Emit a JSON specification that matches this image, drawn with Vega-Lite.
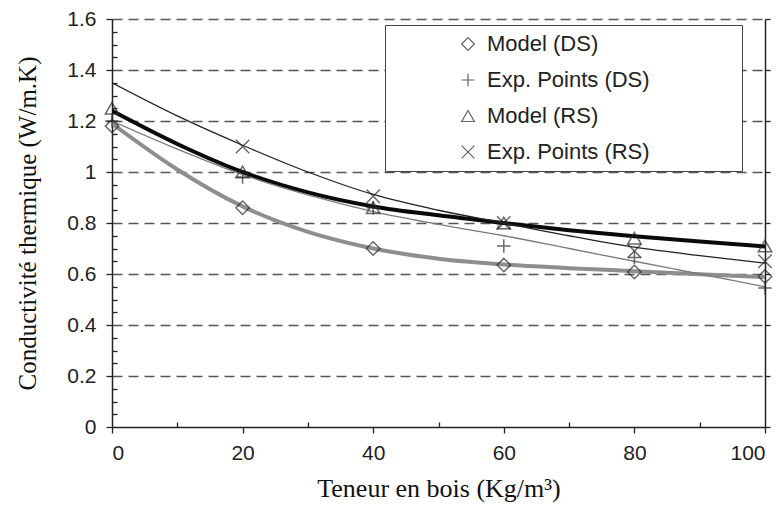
{
  "$schema": "https://vega.github.io/schema/vega-lite/v6.json",
  "autosize": "none",
  "width": 653,
  "height": 408,
  "padding": {"left": 112, "top": 19, "right": 17, "bottom": 81},
  "background": "white",
  "config": {
    "view": {"stroke": null},
    "axis": {"labelFont": "Liberation Sans", "labelColor": "#222", "titleFont": "Liberation Serif", "titleColor": "#111", "titleFontWeight": "normal", "domainColor": "#222", "domainWidth": 1.5, "tickColor": "#222", "tickWidth": 1.3}
  },
  "datasets": {
    "curves": [
      {"x": 0, "y": 1.19, "c": "Model DS"}, {"x": 10, "y": 1.01, "c": "Model DS"}, {"x": 20, "y": 0.865, "c": "Model DS"}, {"x": 30, "y": 0.765, "c": "Model DS"}, {"x": 40, "y": 0.70, "c": "Model DS"}, {"x": 50, "y": 0.66, "c": "Model DS"}, {"x": 60, "y": 0.637, "c": "Model DS"}, {"x": 70, "y": 0.623, "c": "Model DS"}, {"x": 80, "y": 0.611, "c": "Model DS"}, {"x": 90, "y": 0.599, "c": "Model DS"}, {"x": 100, "y": 0.588, "c": "Model DS"},
      {"x": 0, "y": 1.24, "c": "Model RS"}, {"x": 10, "y": 1.11, "c": "Model RS"}, {"x": 20, "y": 1.0, "c": "Model RS"}, {"x": 30, "y": 0.92, "c": "Model RS"}, {"x": 40, "y": 0.865, "c": "Model RS"}, {"x": 50, "y": 0.83, "c": "Model RS"}, {"x": 60, "y": 0.80, "c": "Model RS"}, {"x": 70, "y": 0.772, "c": "Model RS"}, {"x": 80, "y": 0.748, "c": "Model RS"}, {"x": 90, "y": 0.727, "c": "Model RS"}, {"x": 100, "y": 0.708, "c": "Model RS"},
      {"x": 0, "y": 1.35, "c": "Trend RS"}, {"x": 10, "y": 1.22, "c": "Trend RS"}, {"x": 20, "y": 1.105, "c": "Trend RS"}, {"x": 30, "y": 1.0, "c": "Trend RS"}, {"x": 40, "y": 0.912, "c": "Trend RS"}, {"x": 50, "y": 0.85, "c": "Trend RS"}, {"x": 60, "y": 0.80, "c": "Trend RS"}, {"x": 70, "y": 0.75, "c": "Trend RS"}, {"x": 80, "y": 0.705, "c": "Trend RS"}, {"x": 90, "y": 0.672, "c": "Trend RS"}, {"x": 100, "y": 0.643, "c": "Trend RS"},
      {"x": 0, "y": 1.2, "c": "Trend DS"}, {"x": 10, "y": 1.09, "c": "Trend DS"}, {"x": 20, "y": 0.99, "c": "Trend DS"}, {"x": 30, "y": 0.91, "c": "Trend DS"}, {"x": 40, "y": 0.845, "c": "Trend DS"}, {"x": 50, "y": 0.795, "c": "Trend DS"}, {"x": 60, "y": 0.75, "c": "Trend DS"}, {"x": 70, "y": 0.70, "c": "Trend DS"}, {"x": 80, "y": 0.65, "c": "Trend DS"}, {"x": 90, "y": 0.60, "c": "Trend DS"}, {"x": 100, "y": 0.55, "c": "Trend DS"}
    ],
    "points": [
      {"x": 0, "y": 1.18, "s": "Model (DS)"}, {"x": 20, "y": 0.86, "s": "Model (DS)"}, {"x": 40, "y": 0.70, "s": "Model (DS)"}, {"x": 60, "y": 0.635, "s": "Model (DS)"}, {"x": 80, "y": 0.608, "s": "Model (DS)"}, {"x": 100, "y": 0.59, "s": "Model (DS)"},
      {"x": 0, "y": 1.2, "s": "Exp. Points (DS)"}, {"x": 20, "y": 0.98, "s": "Exp. Points (DS)"}, {"x": 40, "y": 0.86, "s": "Exp. Points (DS)"}, {"x": 60, "y": 0.71, "s": "Exp. Points (DS)"}, {"x": 80, "y": 0.665, "s": "Exp. Points (DS)"}, {"x": 100, "y": 0.545, "s": "Exp. Points (DS)"},
      {"x": 0, "y": 1.25, "s": "Model (RS)"}, {"x": 20, "y": 1.0, "s": "Model (RS)"}, {"x": 40, "y": 0.86, "s": "Model (RS)"}, {"x": 60, "y": 0.80, "s": "Model (RS)"}, {"x": 80, "y": 0.74, "s": "Model (RS)"}, {"x": 100, "y": 0.71, "s": "Model (RS)"},
      {"x": 20, "y": 1.1, "s": "Exp. Points (RS)"}, {"x": 40, "y": 0.905, "s": "Exp. Points (RS)"}, {"x": 60, "y": 0.80, "s": "Exp. Points (RS)"}, {"x": 80, "y": 0.69, "s": "Exp. Points (RS)"}, {"x": 100, "y": 0.65, "s": "Exp. Points (RS)"}
    ]
  },
  "layer": [
    {
      "data": {"name": "curves"},
      "mark": {"type": "line", "interpolate": "monotone", "clip": true},
      "encoding": {
        "x": {
          "field": "x", "type": "quantitative",
          "scale": {"domain": [0, 100], "nice": false},
          "axis": {
            "title": "Teneur en bois (Kg/m³)",
            "titleFontSize": 26, "titlePadding": 12,
            "values": [0, 10, 20, 30, 40, 50, 60, 70, 80, 90, 100],
            "labelExpr": "datum.value % 20 == 0 ? datum.label : ''",
            "labelFontSize": 21, "labelPadding": 9,
            "tickSize": {"condition": {"test": "datum.value % 20 == 0", "value": 6}, "value": -5},
            "grid": false
          }
        },
        "y": {
          "field": "y", "type": "quantitative",
          "scale": {"domain": [0, 1.6], "nice": false},
          "axis": {
            "orient": "left",
            "title": "Conductivité thermique (W/m.K)",
            "titleFontSize": 25, "titlePadding": 26,
            "values": [0, 0.05, 0.1, 0.15, 0.2, 0.25, 0.3, 0.35, 0.4, 0.45, 0.5, 0.55, 0.6, 0.65, 0.7, 0.75, 0.8, 0.85, 0.9, 0.95, 1, 1.05, 1.1, 1.15, 1.2, 1.25, 1.3, 1.35, 1.4, 1.45, 1.5, 1.55, 1.6],
            "labelExpr": "abs(datum.value*5 - round(datum.value*5)) < 0.001 ? format(datum.value, '.1~f') : ''",
            "labelFontSize": 21, "labelPadding": 10,
            "tickSize": {"condition": {"test": "abs(datum.value*5 - round(datum.value*5)) < 0.001", "value": 6}, "value": -5},
            "grid": true,
            "gridColor": "#555", "gridWidth": 1.5, "gridDash": [10, 6],
            "gridOpacity": {"condition": {"test": "abs(datum.value*5 - round(datum.value*5)) < 0.001 && datum.value > 0.01", "value": 1}, "value": 0}
          }
        },
        "detail": {"field": "c"},
        "color": {"field": "c", "type": "nominal", "legend": null,
          "scale": {"domain": ["Model DS", "Model RS", "Trend RS", "Trend DS"], "range": ["#8e8e8e", "#0a0a0a", "#222222", "#7a7a7a"]}},
        "strokeWidth": {"condition": {"test": "datum.c == 'Model DS' || datum.c == 'Model RS'", "value": 4}, "value": 1.3}
      }
    },
    {
      "data": {"name": "points"},
      "mark": {"type": "point", "filled": false, "size": 180, "strokeWidth": 1.5, "color": "#2a2a2a", "clip": false},
      "encoding": {
        "x": {"field": "x", "type": "quantitative"},
        "y": {
          "field": "y", "type": "quantitative",
          "axis": {
            "orient": "right", "title": null, "labels": false,
            "values": [0, 0.2, 0.4, 0.6, 0.8, 1, 1.2, 1.4, 1.6],
            "tickSize": 5, "grid": false
          }
        },
        "shape": {
          "field": "s", "type": "nominal",
          "scale": {
            "domain": ["Model (DS)", "Exp. Points (DS)", "Model (RS)", "Exp. Points (RS)"],
            "range": ["diamond", "M-1,0L1,0M0,-1L0,1", "triangle-up", "M-1,-1L1,1M-1,1L1,-1"]
          },
          "legend": {
            "orient": "none", "legendX": 273, "legendY": 6,
            "title": "\u00a0", "titleOrient": "right", "titlePadding": 84, "titleFontSize": 10,
            "strokeColor": "#444", "fillColor": "white", "padding": 8,
            "labelFont": "Liberation Sans", "labelFontSize": 22, "labelColor": "#222", "labelLimit": 400,
            "symbolOffset": 64, "labelOffset": 8, "rowPadding": 14,
            "symbolSize": 160, "symbolStrokeWidth": 1.2, "symbolStrokeColor": "#222", "symbolFillColor": "transparent"
          }
        }
      }
    }
  ],
  "resolve": {"axis": {"y": "independent"}}
}
